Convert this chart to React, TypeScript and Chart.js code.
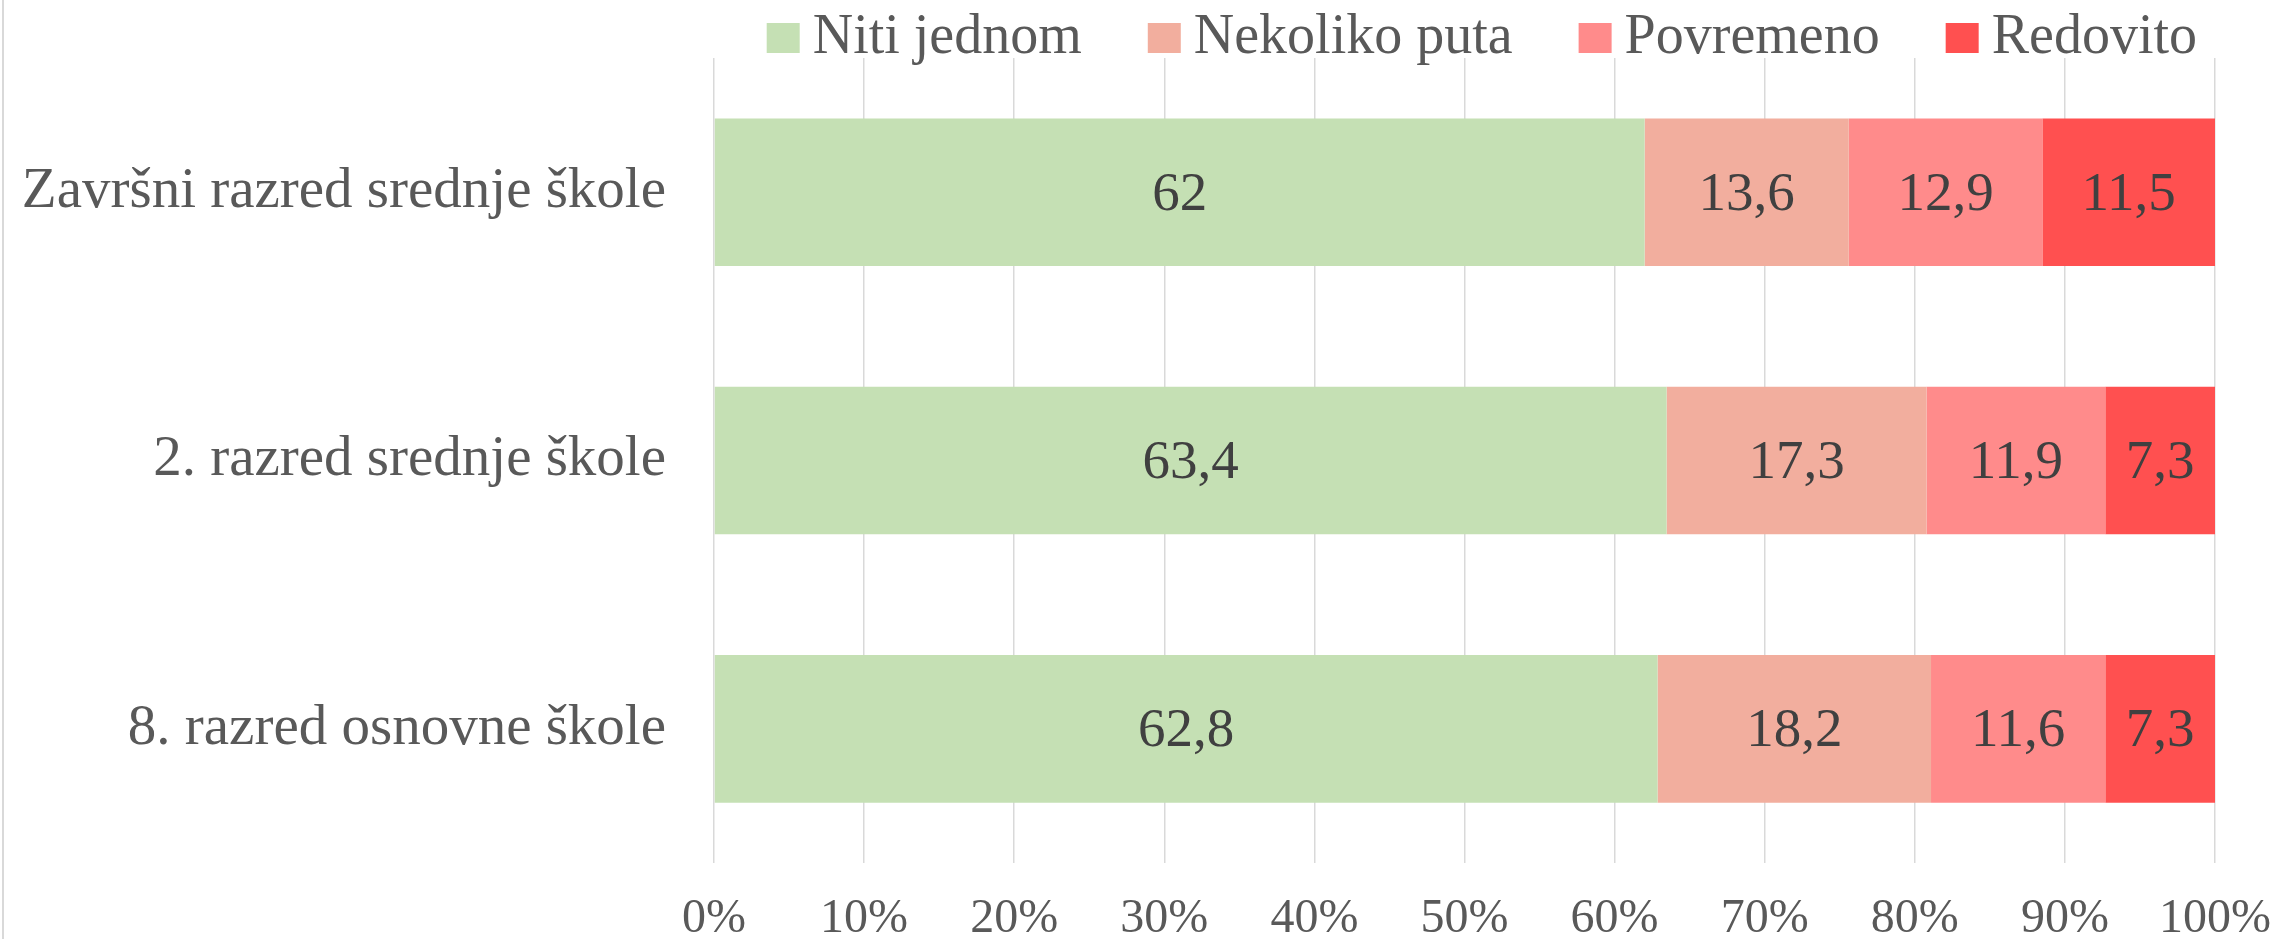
import React, { useEffect, useRef } from 'react';
import { Chart, registerables } from 'chart.js';

Chart.register(...registerables);

const categories = ['Završni razred srednje škole', '2. razred srednje škole', '8. razred osnovne škole'];
const seriesNames = ['Niti jednom', 'Nekoliko puta', 'Povremeno', 'Redovito'];
const nitiJednom = [62, 63.4, 62.8];
const nekolikoPuta = [13.6, 17.3, 18.2];
const povremeno = [12.9, 11.9, 11.6];
const redovito = [11.5, 7.3, 7.3];
const xTickValues = [0, 10, 20, 30, 40, 50, 60, 70, 80, 90, 100];
const seriesColors = ['#C5E0B4', '#F2AE9E', '#FF8B8B', '#FF5050'];

const FONT = '"Liberation Serif", "Times New Roman", serif';

const allSeries = [nitiJednom, nekolikoPuta, povremeno, redovito];
const totals = categories.map((_, i) => allSeries.reduce((s, arr) => s + arr[i], 0));
const fmt = (v: number) => String(v).replace('.', ',');

const legendPlugin = {
  id: 'customLegend',
  afterDraw(chart: any) {
    const ctx = chart.ctx;
    ctx.save();
    ctx.font = `56px ${FONT}`;
    const box = 33, boxH = 30, gap = 13, spacing = 66;
    const items = chart.data.datasets.map((ds: any) => ({ label: ds.label, color: ds.backgroundColor }));
    const widths = items.map((it: any) => box + gap + ctx.measureText(it.label).width);
    const total = widths.reduce((a: number, b: number) => a + b, 0) + spacing * (items.length - 1);
    let x = chart.chartArea.right - 18 - total;
    const cy = 38;
    items.forEach((it: any, i: number) => {
      ctx.fillStyle = it.color;
      ctx.fillRect(x, cy - boxH / 2, box, boxH);
      ctx.fillStyle = '#595959';
      ctx.textBaseline = 'middle';
      ctx.textAlign = 'left';
      ctx.fillText(it.label, x + box + gap, cy);
      x += widths[i] + spacing;
    });
    ctx.restore();
  },
};

const dataLabelPlugin = {
  id: 'dataLabels',
  afterDatasetsDraw(chart: any) {
    const ctx = chart.ctx;
    ctx.save();
    ctx.font = `55px ${FONT}`;
    ctx.fillStyle = '#404040';
    ctx.textAlign = 'center';
    ctx.textBaseline = 'middle';
    chart.data.datasets.forEach((ds: any, di: number) => {
      const meta = chart.getDatasetMeta(di);
      meta.data.forEach((bar: any, i: number) => {
        const p = bar.getCenterPoint();
        ctx.fillText(fmt(allSeries[di][i]), p.x, p.y + 3);
      });
    });
    ctx.restore();
  },
};

export default function App() {
  const ref = useRef<HTMLCanvasElement>(null);
  useEffect(() => {
    if (!ref.current) return;
    const chart = new Chart(ref.current, {
      type: 'bar',
      data: {
        labels: categories,
        datasets: allSeries.map((arr, si) => ({
          label: seriesNames[si],
          data: arr.map((v, i) => (v / totals[i]) * 100),
          backgroundColor: seriesColors[si],
          borderWidth: 0,
          barPercentage: 0.55,
          categoryPercentage: 1,
        })),
      },
      options: {
        indexAxis: 'y',
        animation: false,
        responsive: true,
        maintainAspectRatio: false,
        devicePixelRatio: 1,
        layout: { padding: { top: 58, right: 65, bottom: 0, left: 0 } },
        plugins: {
          legend: { display: false },
          tooltip: { enabled: false },
          title: { display: false },
        },
        scales: {
          x: {
            stacked: true,
            min: 0,
            max: 100,
            afterBuildTicks: (scale: any) => {
              scale.ticks = xTickValues.map((v) => ({ value: v }));
            },
            afterFit: (scale: any) => {
              scale.height = 76;
            },
            ticks: {
              padding: 0,
              color: '#595959',
              font: { family: FONT, size: 48 },
              callback: (v: any) => `${v}%`,
            },
            grid: {
              color: '#d9d9d9',
              lineWidth: 1.5,
              drawTicks: true,
              tickLength: 28,
              tickColor: 'rgba(0,0,0,0)',
            },
            border: { display: false },
          },
          y: {
            stacked: true,
            afterFit: (scale: any) => {
              scale.width = 714;
            },
            ticks: {
              padding: 0,
              color: '#595959',
              font: { family: FONT, size: 57 },
            },
            grid: {
              display: true,
              drawOnChartArea: false,
              drawTicks: true,
              tickLength: 48,
              tickColor: 'rgba(0,0,0,0)',
            },
            border: { display: false },
          },
        },
      },
      plugins: [legendPlugin, dataLabelPlugin],
    });
    return () => chart.destroy();
  }, []);

  return (
    <div style={{ position: 'absolute', left: 0, top: 0, width: 2280, height: 939, background: '#fff', overflow: 'hidden' }}>
      <div style={{ position: 'absolute', left: 2, top: 0, width: 2, height: 939, background: '#d9d9d9' }} />
      <canvas ref={ref} />
    </div>
  );
}
